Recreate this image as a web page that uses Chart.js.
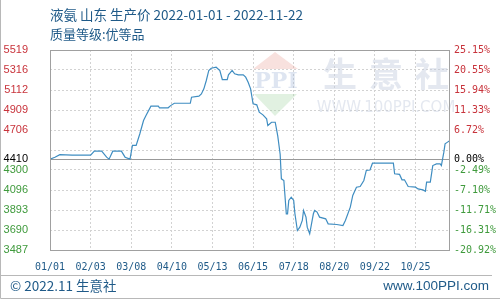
<!DOCTYPE html>
<html>
<head>
<meta charset="utf-8">
<title>液氨 山东 生产价</title>
<script src="https://cdn.jsdelivr.net/npm/chart.js"></script>
<style>
  body { margin: 0; background: #fff; }
  #wrap { width: 500px; height: 300px; position: relative; }
</style>
</head>
<body>
<div id="wrap"><canvas id="priceChart"></canvas></div>
<script>
// price points (MM/DD of 2022, yuan/ton)
const dates = ["01/01","01/05","01/09","01/19","02/03","02/06","02/12","02/16","02/18","02/21","02/28","03/03","03/07","03/09","03/12","03/15","03/18","03/20","03/24","03/30","03/31","04/07","04/09","04/12","04/25","04/26","05/02","05/04","05/06","05/08","05/10","05/12","05/16","05/19","05/21","05/25","05/26","05/29","05/31","06/03","06/07","06/09","06/11","06/13","06/15","06/18","06/20","06/23","06/26","06/27","06/30","07/03","07/05","07/07","07/08","07/10","07/12","07/13","07/14","07/16","07/18","07/19","07/21","07/23","07/25","07/26","07/28","07/29","07/31","08/02","08/03","08/04","08/06","08/08","08/13","08/15","08/22","08/27","08/29","09/02","09/04","09/07","09/10","09/13","09/15","09/18","09/20","10/07","10/08","10/12","10/14","10/16","10/19","10/25","10/27","10/31","11/02","11/03","11/06","11/08","11/11","11/14","11/15","11/17","11/18","11/20","11/22"];
const prices = [4410,4430,4455,4450,4450,4491,4491,4430,4410,4491,4491,4430,4410,4549,4549,4668,4803,4854,4948,4948,4932,4932,4954,4978,4978,5039,5050,5073,5124,5209,5311,5334,5344,5311,5219,5219,5267,5311,5277,5267,5267,5243,5192,5124,4972,4962,4887,4860,4820,4752,4785,4785,4650,4460,4210,4193,3855,3855,3990,4023,3990,3855,3685,3719,3787,3889,3821,3719,3652,3787,3855,3889,3872,3821,3804,3753,3746,3736,3787,3923,4041,4125,4132,4193,4295,4300,4369,4369,4261,4255,4200,4200,4132,4125,4108,4098,4084,4176,4176,4345,4362,4362,4345,4481,4566,4583,4600];

const xTickLabels = ["01/01","02/03","03/08","04/10","05/13","06/15","07/18","08/20","09/22","10/25"];
const yTickValues = [3487,3690,3893,4096,4300,4410,4503,4706,4909,5112,5316,5519];
const leftTickLabels = ["3487","3690","3893","4096","4300","4410","","4706","4909","5112","5316","5519"];
const rightTickLabels = ["-20.92%","-16.31%","-11.71%","-7.10%","-2.49%","0.00%","","6.72%","11.33%","15.94%","20.55%","25.15%"];
const basePrice = 4410;
const firstDay = "01/01";
const lastDay = "11/22";

const titleText = "液氨 山东 生产价 2022-01-01 - 2022-11-22";
const subTitleText = "质量等级:优等品";
const footerLeft = "© 2022.11 生意社";
const footerRight = "www.100PPI.com";

function dayOfYear(md) {
  const [m, d] = md.split("/").map(Number);
  return (Date.UTC(2022, m - 1, d) - Date.UTC(2022, 0, 1)) / 86400000;
}

function tickColor(v) {
  if (v === basePrice) return "#000000";
  return v > basePrice ? "#c8333b" : "#3f9a3c";
}

const points = dates.map((d, i) => ({ x: dayOfYear(d), y: prices[i] }));

// frame, base line, watermark and the header / footer texts
const decorPlugin = {
  id: "decor",
  beforeDatasetsDraw(chart) {
    const { ctx, chartArea: a, scales } = chart;
    ctx.save();
    // watermark logo
    ctx.fillStyle = "rgba(236,170,160,0.35)";
    ctx.beginPath();
    ctx.moveTo(275, 52); ctx.lineTo(298, 69); ctx.lineTo(253, 69); ctx.closePath();
    ctx.fill();
    ctx.fillStyle = "rgba(170,215,170,0.35)";
    ctx.beginPath();
    ctx.moveTo(254, 94); ctx.lineTo(297, 94); ctx.lineTo(275, 116); ctx.closePath();
    ctx.fill();
    ctx.fillStyle = "rgba(160,180,215,0.35)";
    ctx.font = "bold 22px 'DejaVu Serif'";
    ctx.textAlign = "center";
    ctx.textBaseline = "middle";
    ctx.fillText("PPI", 276, 82);
    ctx.fillStyle = "rgba(195,205,222,0.45)";
    ctx.font = "bold 34px 'Noto Sans CJK SC'";
    ctx.fillText("生", 340, 74);
    ctx.fillText("意", 386, 74);
    ctx.fillText("社", 432, 74);
    ctx.font = "15px 'DejaVu Sans'";
    ctx.fillText("WWW.100PPI.COM", 386, 108);
    // base price line
    const yb = Math.round(scales.y.getPixelForValue(basePrice)) + 0.5;
    ctx.strokeStyle = "#999999";
    ctx.lineWidth = 1;
    ctx.beginPath();
    ctx.moveTo(a.left, yb); ctx.lineTo(a.right, yb);
    ctx.stroke();
    ctx.restore();
  },
  afterDraw(chart) {
    const { ctx, chartArea: a } = chart;
    ctx.save();
    ctx.strokeStyle = "#a0a0a0";
    ctx.lineWidth = 1;
    ctx.strokeRect(Math.round(a.left) + 0.5, Math.round(a.top) + 0.5, Math.round(a.right - a.left) - 1, Math.round(a.bottom - a.top));
    // outer border pieces and footer divider
    ctx.strokeStyle = "#b8b8b8";
    ctx.beginPath();
    ctx.moveTo(0.5, 0); ctx.lineTo(0.5, 298.5); ctx.lineTo(500, 298.5);
    ctx.moveTo(0, 275.5); ctx.lineTo(492, 275.5);
    ctx.stroke();
    ctx.fillStyle = "#1f5a88";
    ctx.textBaseline = "middle";
    ctx.textAlign = "left";
    ctx.font = "13.5px 'Noto Sans CJK SC'";
    ctx.fillText(titleText, 50, 15);
    ctx.font = "13px 'Noto Sans CJK SC'";
    ctx.fillText(subTitleText, 50, 34);
    ctx.font = "13.5px 'Noto Sans CJK SC'";
    ctx.fillText(footerLeft, 10, 286);
    ctx.textAlign = "right";
    ctx.font = "13.5px 'Liberation Sans'";
    ctx.fillText(footerRight, 489, 286);
    ctx.restore();
  }
};

const gridColor = (c) => (c.tick && c.tick.value === basePrice ? "rgba(0,0,0,0)" : "#d2d2d2");

new Chart(document.getElementById("priceChart"), {
  type: "line",
  data: {
    datasets: [{
      data: points,
      borderColor: "#3f8dc1",
      borderWidth: 1.2,
      pointRadius: 0,
      tension: 0,
      fill: false
    }]
  },
  options: {
    responsive: true,
    maintainAspectRatio: false,
    animation: false,
    layout: { padding: { top: 50, left: 0, right: 0, bottom: 0 } },
    plugins: { legend: { display: false }, tooltip: { enabled: false } },
    scales: {
      x: {
        type: "linear",
        min: dayOfYear(firstDay),
        max: dayOfYear(lastDay),
        afterBuildTicks: (s) => { s.ticks = xTickLabels.map((t) => ({ value: dayOfYear(t) })); },
        afterFit: (s) => { s.height = 50; },
        grid: { color: "#d2d2d2", drawTicks: false },
        border: { display: false, dash: [2, 2] },
        ticks: {
          autoSkip: false,
          maxRotation: 0,
          padding: 11,
          color: "#1f5a88",
          font: { family: "'DejaVu Sans Mono'", size: 10 },
          callback: (v, i) => xTickLabels[i]
        }
      },
      y: {
        position: "left",
        min: yTickValues[0],
        max: yTickValues[yTickValues.length - 1],
        afterBuildTicks: (s) => { s.ticks = yTickValues.map((v) => ({ value: v })); },
        afterFit: (s) => { s.width = 50; },
        grid: { color: gridColor, drawTicks: false },
        border: { display: false, dash: [2, 2] },
        ticks: {
          autoSkip: false,
          padding: 22,
          color: (c) => tickColor(c.tick.value),
          font: { family: "'Liberation Sans'", size: 11 },
          callback: (v, i) => leftTickLabels[i]
        }
      },
      yRight: {
        position: "right",
        min: yTickValues[0],
        max: yTickValues[yTickValues.length - 1],
        afterBuildTicks: (s) => { s.ticks = yTickValues.map((v) => ({ value: v })); },
        afterFit: (s) => { s.width = 50; },
        grid: { display: false, drawTicks: false },
        border: { display: false },
        ticks: {
          autoSkip: false,
          padding: 4,
          color: (c) => tickColor(c.tick.value),
          font: { family: "'DejaVu Sans Mono'", size: 10 },
          callback: (v, i) => rightTickLabels[i]
        }
      }
    }
  },
  plugins: [decorPlugin]
});
</script>
</body>
</html>
